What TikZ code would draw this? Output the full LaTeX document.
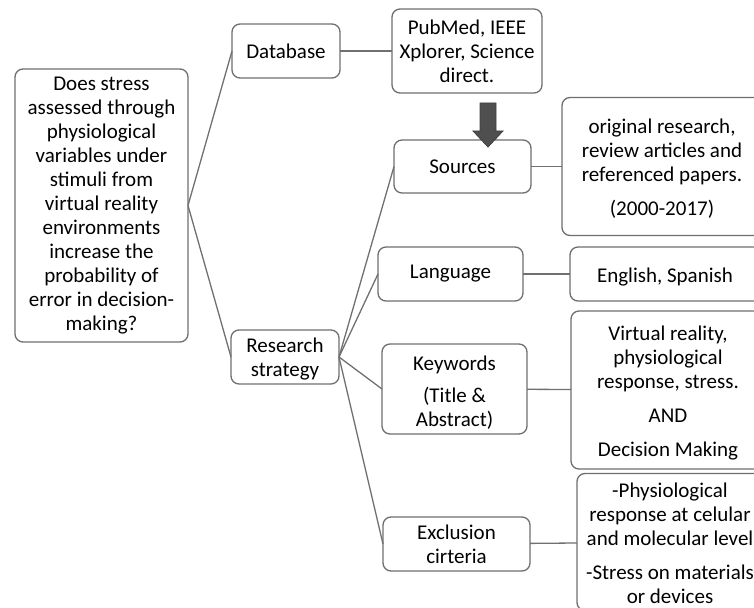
\documentclass[tikz,border=0pt]{standalone}
\usepackage{fontspec}
\setmainfont{Carlito}
\usetikzlibrary{positioning, calc}
\definecolor{boxgray}{HTML}{6E6E6E}
\definecolor{linegray}{HTML}{707070}
\definecolor{arrowfill}{HTML}{4F4F4F}
\tikzset{every node/.style={font=\fontsize{21}{24}\selectfont, text=black}}
% stacked lines, lowered a little inside the box
\newcommand{\lowtext}[2]{\begin{tabular}{@{}c@{}}\\[#1]#2\end{tabular}}
% text of the right-hand boxes, pushed left so the box runs off the page
\newcommand{\infotext}[2]{\lowtext{-17pt}{#2}\hspace{#1}}

\begin{document}
\begin{tikzpicture}[x=1pt, y=1pt, node distance=44pt]
  \tikzstyle{box} = [rectangle, rounded corners=8pt, draw=boxgray, line width=1.3pt, align=center, inner sep=0pt, outer sep=0pt]
  \tikzstyle{infobox} = [box, minimum width=240pt]
  \tikzstyle{line} = [draw=linegray, line width=1.3pt]
  \tikzstyle{bigarrow} = [fill=arrowfill, draw=black!75, line width=0.8pt]
  \useasboundingbox (-101.5,-401.5) rectangle (652.5,205.5);
  \clip (-101.5,-401.5) rectangle (652.5,205.5);
  \node (question) [box, minimum width=173pt, minimum height=273pt] at (0,0) {Does stress\\assessed through\\physiological\\variables under\\stimuli from\\virtual reality\\environments\\increase the\\probability of\\error in decision-\\making?};
  \node (database) [box, right=44pt of question, yshift=154.5pt, minimum width=108pt, minimum height=54pt] {Database};
  \node (research) [box, right=43pt of question, yshift=-151.5pt, minimum width=108pt, minimum height=52pt] {\lowtext{-18pt}{Research\\strategy}};
  \node (pubmed) [box, right=52pt of database, minimum width=150pt, minimum height=84pt] {PubMed, IEEE\\Xplorer, Science\\direct.};
  \node (sources) [box, below=47pt of pubmed, xshift=-4.5pt, minimum width=137pt, minimum height=53pt] {Sources};
  \node (srcinfo) [infobox, right=31pt of sources, minimum height=138pt] {\infotext{40pt}{original research,\\review articles and\\referenced papers.\\[10pt](2000-2017)}};
  \node (language) [box, below=54pt of sources, xshift=-12pt, minimum width=145pt, minimum height=54pt] {Language};
  \node (langinfo) [infobox, right=47pt of language, minimum height=54pt] {\infotext{50pt}{English, Spanish}};
  \node (keywords) [box, below=43pt of language, xshift=4pt, minimum width=145pt, minimum height=88pt] {\lowtext{-14pt}{Keywords\\[8pt](Title \&\\Abstract)}};
  \node (kwinfo) [infobox, right=44pt of keywords, yshift=-1pt, minimum height=158pt] {\infotext{46pt}{Virtual reality,\\physiological\\response, stress.\\[10pt]AND\\[10pt]Decision Making}};
  \node (exclusion) [box, below=83pt of keywords, xshift=2pt, minimum width=147pt, minimum height=54pt] {Exclusion\\cirteria};
  \node (exinfo) [infobox, right=47pt of exclusion, yshift=2pt, minimum height=128pt] {\infotext{54pt}{-Physiological\\response at celular\\and molecular level\\[10pt]-Stress on materials\\or devices}};
  % question branches
  \draw [line] (question.east) -- (database.west);
  \draw [line] (question.east) -- (research.west);
  \draw [line] (database) -- (pubmed);
  % strategy branches
  \draw [line] (research.east) -- (sources.west);
  \draw [line] (research.east) -- (language.west);
  \draw [line] (research.east) -- (keywords.west);
  \draw [line] (research.east) -- (exclusion.west);
  \draw [line] (sources) -- (srcinfo);
  \draw [line] (language) -- (langinfo);
  \draw [line] (keywords) -- (kwinfo);
  \draw [line] (exclusion) -- (exinfo);
  % block arrow from databases to sources
  \coordinate (arrowtop) at ($(pubmed.south)+(21,-10)$);
  \filldraw [bigarrow] (arrowtop) ++(-8,0) -- ++(0,-28) -- ++(-7,0) -- ++(15,-16) -- ++(15,16) -- ++(-7,0) -- ++(0,28) -- cycle;
\end{tikzpicture}
\end{document}
